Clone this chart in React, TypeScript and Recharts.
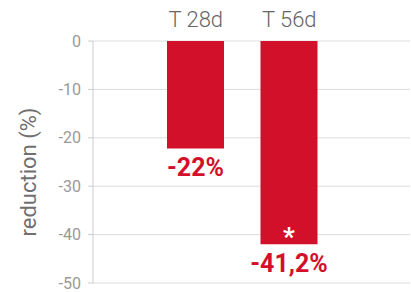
import { BarChart, Bar, XAxis, YAxis, CartesianGrid, LabelList, Label } from 'recharts';

const periods = ['T 28d', 'T 56d'];
const reductions = [-22.2, -42];
const valueLabels = ['-22%', '-41,2%'];
const marks = ['', '*'];
const yTicks = [0, -10, -20, -30, -40, -50];

const RED = '#d2102a';

const data = periods.map((period, i) => ({
  period,
  reduction: reductions[i],
  label: valueLabels[i],
  mark: marks[i],
}));

const ValueLabel = (props: any) => {
  const { x, y, width, height, value } = props;
  const bottom = Math.max(y, y + height);
  return (
    <text x={x + width / 2} y={bottom + 28} textAnchor="middle" fill={RED}
      fontFamily="Roboto" fontWeight={700} fontSize={25}>
      {value}
    </text>
  );
};

const MarkLabel = (props: any) => {
  const { x, y, width, height, value } = props;
  if (!value) return null;
  const bottom = Math.max(y, y + height);
  return (
    <text x={x + width / 2} y={bottom + 2} textAnchor="middle" fill="#fff"
      fontFamily="Roboto" fontWeight={700} fontSize={26}>
      {value}
    </text>
  );
};

export default function App() {
  return (
    <div style={{ position: 'absolute', left: 0, top: 0, width: 411, height: 292, background: '#fff' }}>
      <BarChart width={411} height={292} data={data}
        margin={{ top: 11, right: 1, bottom: 9, left: 0 }}>
        <CartesianGrid vertical={false} stroke="#dcdcdc" />
        <XAxis dataKey="period" orientation="top" height={30} axisLine={false} tickLine={false}
          tickMargin={8} padding={{ left: 56, right: 74 }}
          tick={{ fill: '#666', fontSize: 22, fontFamily: 'Roboto', fontWeight: 300 }} />
        <YAxis type="number" domain={[-50, 0]} ticks={yTicks} width={93}
          axisLine={{ stroke: '#ccc' }} tickLine={{ stroke: '#ccc' }} tickSize={5} tickMargin={7}
          tick={{ fill: '#999', fontSize: 16, fontFamily: 'Roboto' }}>
          <Label value="reduction (%)" angle={-90} position="center" dx={-18} dy={10}
            style={{ fill: '#707070', fontSize: 22, fontFamily: 'Roboto' }} />
        </YAxis>
        <Bar dataKey="reduction" fill={RED} barSize={57} isAnimationActive={false}>
          <LabelList dataKey="label" content={ValueLabel} />
          <LabelList dataKey="mark" content={MarkLabel} />
        </Bar>
      </BarChart>
    </div>
  );
}
